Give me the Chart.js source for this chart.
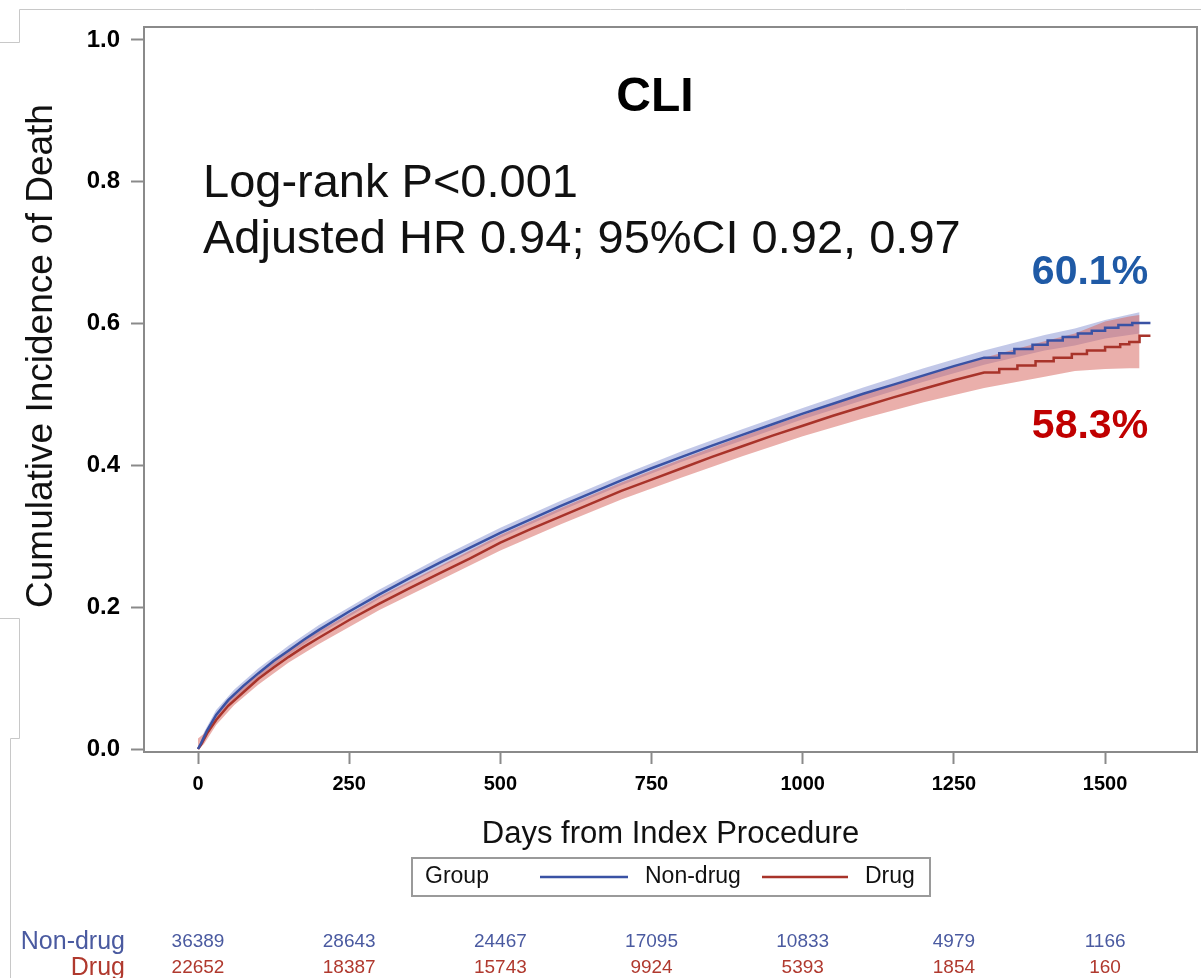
<!DOCTYPE html>
<html>
<head>
<meta charset="utf-8">
<script src="https://cdn.jsdelivr.net/npm/chart.js@4.4.1/dist/chart.umd.min.js"></script>
<style>
  html, body { margin: 0; padding: 0; background: #fff; }
  canvas { display: block; }
</style>
</head>
<body>
<canvas id="chart_cli" width="1201" height="978"></canvas>
<script>
// cumulative incidence of death
const nonDrugDays = [0, 5, 15, 30, 50, 75, 100, 125, 150, 175, 200,
  250, 300, 350, 400, 450, 500, 550, 600, 650, 700, 750, 800, 850, 900, 950, 1000,
  1050, 1100, 1150, 1200, 1250, 1300,
  1325, 1325, 1350, 1350, 1380, 1380, 1405, 1405, 1430, 1430, 1455, 1455,
  1478, 1478, 1500, 1500, 1522, 1522, 1545, 1545, 1575];
const nonDrugInc = [0, 0.008, 0.026, 0.048, 0.069, 0.089, 0.107, 0.124, 0.139, 0.154, 0.168,
  0.194, 0.218, 0.241, 0.263, 0.284, 0.305, 0.324, 0.343, 0.361, 0.379, 0.396, 0.412, 0.428, 0.443, 0.458, 0.473,
  0.487, 0.501, 0.514, 0.527, 0.540, 0.552,
  0.552, 0.558, 0.558, 0.564, 0.564, 0.570, 0.570, 0.576, 0.576, 0.581, 0.581, 0.586,
  0.586, 0.590, 0.590, 0.594, 0.594, 0.598, 0.598, 0.601, 0.601];

const drugDays = [0, 5, 15, 30, 50, 75, 100, 125, 150, 175, 200,
  250, 300, 350, 400, 450, 500, 550, 600, 650, 700, 750, 800, 850, 900, 950, 1000,
  1050, 1100, 1150, 1200, 1250, 1300,
  1325, 1325, 1355, 1355, 1385, 1385, 1415, 1415, 1445, 1445, 1470, 1470,
  1500, 1500, 1525, 1525, 1540, 1540, 1557, 1557, 1575];
const drugInc = [0, 0.006, 0.022, 0.041, 0.061, 0.080, 0.099, 0.115, 0.130, 0.144, 0.157,
  0.182, 0.205, 0.227, 0.248, 0.269, 0.291, 0.310, 0.328, 0.346, 0.364, 0.380, 0.396, 0.412, 0.427, 0.442, 0.456,
  0.470, 0.483, 0.496, 0.508, 0.520, 0.531,
  0.531, 0.536, 0.536, 0.541, 0.541, 0.547, 0.547, 0.552, 0.552, 0.557, 0.557, 0.562,
  0.562, 0.567, 0.567, 0.571, 0.571, 0.574, 0.574, 0.583, 0.583];

// 95% confidence bands
const bandDays = [0, 10, 30, 60, 100, 150, 200, 300, 400, 500, 600, 700, 800, 900, 1000,
  1100, 1200, 1300, 1400, 1450, 1500, 1540, 1557];
const nonDrugLower = [0, 0.011, 0.042, 0.071, 0.101, 0.133, 0.162, 0.212, 0.256, 0.298, 0.336, 0.372, 0.405, 0.435, 0.465,
  0.492, 0.518, 0.542, 0.562, 0.569, 0.579, 0.584, 0.586];
const nonDrugUpper = [0, 0.024, 0.055, 0.084, 0.114, 0.146, 0.175, 0.225, 0.270, 0.312, 0.350, 0.386, 0.420, 0.451, 0.481,
  0.510, 0.537, 0.562, 0.584, 0.593, 0.605, 0.613, 0.616];
const drugLower = [0, 0.007, 0.034, 0.062, 0.091, 0.122, 0.148, 0.196, 0.238, 0.280, 0.317, 0.352, 0.383, 0.413, 0.441,
  0.466, 0.489, 0.509, 0.525, 0.533, 0.536, 0.537, 0.537];
const drugUpper = [0.015, 0.022, 0.049, 0.077, 0.107, 0.139, 0.166, 0.215, 0.258, 0.302, 0.340, 0.376, 0.409, 0.441, 0.471,
  0.500, 0.527, 0.552, 0.575, 0.586, 0.603, 0.610, 0.612];

// number at risk (also the x tick positions)
const atRiskDays = [0, 250, 500, 750, 1000, 1250, 1500];
const nonDrugAtRisk = [36389, 28643, 24467, 17095, 10833, 4979, 1166];
const drugAtRisk = [22652, 18387, 15743, 9924, 5393, 1854, 160];

const yTicks = [0, 0.2, 0.4, 0.6, 0.8, 1.0];

const SANS = "'Liberation Sans', Arial, sans-serif";
const NARROW = "'Liberation Sans Narrow', 'Liberation Sans', Arial, sans-serif";
const AXIS = '#8a8a8a';
const BLUE = '#3a52a4';
const RED = '#a8332a';

function toPoints(xs, ys) {
  return xs.map((x, i) => ({ x: x, y: ys[i] }));
}

function put(ctx, str, x, y, font, color, align) {
  ctx.font = font;
  ctx.fillStyle = color;
  ctx.textAlign = align || 'left';
  ctx.textBaseline = 'middle';
  ctx.fillText(str, x, y);
}

const decorations = {
  id: 'decorations',
  beforeDraw: (chart) => {
    const ctx = chart.ctx;
    ctx.save();
    ctx.fillStyle = 'white';
    ctx.fillRect(0, 0, chart.width, chart.height);
    // faint edges of the pasted figure
    ctx.strokeStyle = '#c8c8c8';
    ctx.lineWidth = 1;
    ctx.beginPath();
    ctx.moveTo(0, 42.5); ctx.lineTo(19.5, 42.5); ctx.lineTo(19.5, 9.5); ctx.lineTo(1201, 9.5);
    ctx.moveTo(0, 618.5); ctx.lineTo(19.5, 618.5); ctx.lineTo(19.5, 738.5);
    ctx.lineTo(10.5, 738.5); ctx.lineTo(10.5, 978);
    ctx.stroke();
    ctx.restore();
  },
  afterDraw: (chart) => {
    const ctx = chart.ctx;
    const a = chart.chartArea;
    const xs = chart.scales.x;
    ctx.save();

    // top and right frame
    ctx.strokeStyle = AXIS;
    ctx.lineWidth = 2;
    ctx.beginPath();
    ctx.moveTo(a.left, a.top);
    ctx.lineTo(a.right, a.top);
    ctx.lineTo(a.right, a.bottom);
    ctx.stroke();

    // y axis title
    ctx.save();
    ctx.translate(42, 356);
    ctx.rotate(-Math.PI / 2);
    put(ctx, 'Cumulative Incidence of Death', 0, 0, '37px ' + SANS, '#111', 'center');
    ctx.restore();

    // in-plot text
    put(ctx, 'CLI', 655, 98, 'bold 48px ' + SANS, '#000', 'center');
    put(ctx, 'Log-rank P<0.001', 203, 184, '47px ' + SANS, '#111');
    put(ctx, 'Adjusted HR 0.94; 95%CI 0.92, 0.97', 203, 240, '47px ' + SANS, '#111');
    put(ctx, '60.1%', 1090, 273, 'bold 41px ' + SANS, '#1f5aa6', 'center');
    put(ctx, '58.3%', 1090, 427, 'bold 41px ' + SANS, '#c00000', 'center');

    // legend
    ctx.strokeStyle = '#9a9a9a';
    ctx.lineWidth = 2;
    ctx.strokeRect(412, 858, 518, 38);
    put(ctx, 'Group', 425, 877, '23px ' + SANS, '#111');
    ctx.lineWidth = 2.5;
    ctx.strokeStyle = chart.data.datasets[0].borderColor;
    ctx.beginPath(); ctx.moveTo(540, 877); ctx.lineTo(628, 877); ctx.stroke();
    put(ctx, chart.data.datasets[0].label, 645, 877, '23px ' + SANS, '#111');
    ctx.strokeStyle = chart.data.datasets[1].borderColor;
    ctx.beginPath(); ctx.moveTo(762, 877); ctx.lineTo(848, 877); ctx.stroke();
    put(ctx, chart.data.datasets[1].label, 865, 877, '23px ' + SANS, '#111');

    // number at risk
    put(ctx, 'Non-drug', 125, 942, '25px ' + NARROW, '#4a5aa0', 'right');
    put(ctx, 'Drug', 125, 968, '25px ' + NARROW, '#b0392e', 'right');
    atRiskDays.forEach((d, i) => {
      const px = xs.getPixelForValue(d);
      put(ctx, String(nonDrugAtRisk[i]), px, 942, '19px ' + NARROW, '#4a5aa0', 'center');
      put(ctx, String(drugAtRisk[i]), px, 968, '19px ' + NARROW, '#b0392e', 'center');
    });
    ctx.restore();
  }
};

var chart_cli = new Chart(document.getElementById('chart_cli'), {
  type: 'line',
  data: {
    datasets: [
      { label: 'Non-drug', data: toPoints(nonDrugDays, nonDrugInc), borderColor: BLUE, borderWidth: 2.5, pointRadius: 0, fill: false },
      { label: 'Drug', data: toPoints(drugDays, drugInc), borderColor: RED, borderWidth: 2.5, pointRadius: 0, fill: false },
      { label: 'Drug upper', data: toPoints(bandDays, drugUpper), borderColor: 'transparent', borderWidth: 0, pointRadius: 0, fill: false },
      { label: 'Drug lower', data: toPoints(bandDays, drugLower), borderColor: 'transparent', borderWidth: 0, pointRadius: 0,
        fill: '-1', backgroundColor: 'rgba(214,96,88,0.5)' },
      { label: 'Non-drug upper', data: toPoints(bandDays, nonDrugUpper), borderColor: 'transparent', borderWidth: 0, pointRadius: 0, fill: false },
      { label: 'Non-drug lower', data: toPoints(bandDays, nonDrugLower), borderColor: 'transparent', borderWidth: 0, pointRadius: 0,
        fill: '-1', backgroundColor: 'rgba(120,134,205,0.45)' }
    ]
  },
  options: {
    animation: false,
    responsive: false,
    layout: { padding: { left: 0, top: 27, right: 4, bottom: 125 } },
    plugins: {
      legend: { display: false },
      tooltip: { enabled: false }
    },
    scales: {
      x: {
        type: 'linear',
        min: -89.3,
        max: 1652,
        border: { display: true, color: AXIS, width: 2 },
        grid: { drawOnChartArea: false, tickLength: 12, tickColor: AXIS, tickWidth: 2 },
        afterBuildTicks: (s) => { s.ticks = atRiskDays.map((v) => ({ value: v })); },
        ticks: {
          autoSkip: false, maxRotation: 0, padding: 8,
          color: '#000', font: { family: SANS, size: 20, weight: 'bold' },
          callback: (v) => String(v)
        },
        title: {
          display: true,
          text: 'Days from Index Procedure',
          color: '#111',
          font: { family: SANS, size: 31 },
          padding: { top: 0, bottom: 0 }
        },
        afterFit: (s) => { s.height = 101; s.paddingRight = 0; s.paddingLeft = 0; }
      },
      y: {
        min: -0.0042,
        max: 1.0183,
        border: { display: true, color: AXIS, width: 2 },
        grid: { drawOnChartArea: false, tickLength: 13, tickColor: AXIS, tickWidth: 2 },
        afterBuildTicks: (s) => { s.ticks = yTicks.map((v) => ({ value: v })); },
        ticks: {
          padding: 11, color: '#000', font: { family: SANS, size: 24, weight: 'bold' },
          callback: (v) => Number(v).toFixed(1)
        },
        afterFit: (s) => { s.width = 144; }
      }
    }
  },
  plugins: [decorations]
});
</script>
</body>
</html>
